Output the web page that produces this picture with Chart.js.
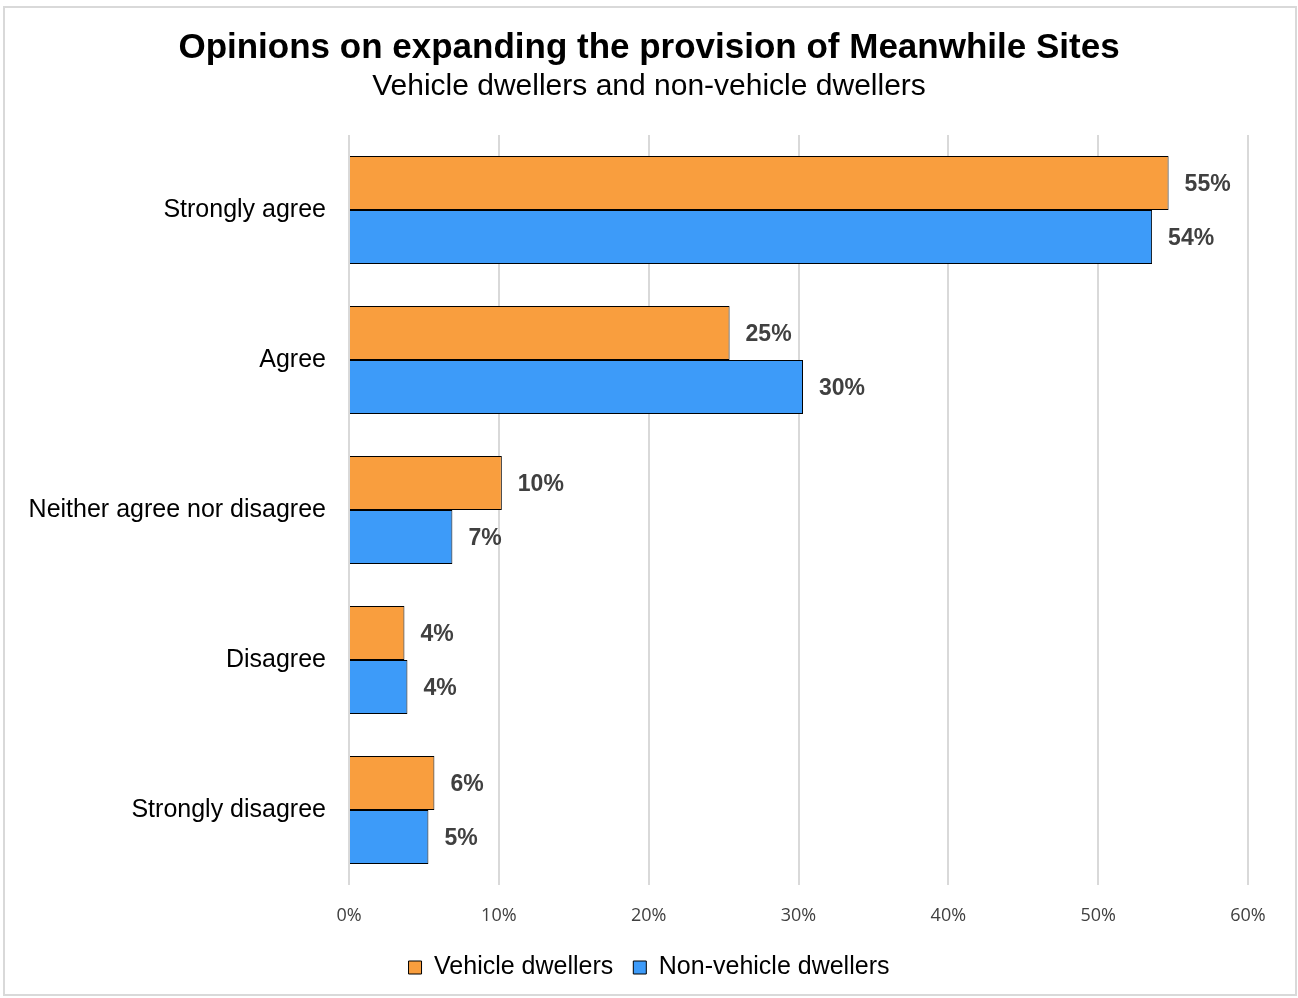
<!DOCTYPE html>
<html>
<head>
<meta charset="utf-8">
<script src="https://cdn.jsdelivr.net/npm/chart.js@4"></script>
<style>
  body { margin: 0; background: #fff; }
</style>
</head>
<body>
<canvas id="myChart" width="1298" height="998"></canvas>
<script>
// survey answers, shares in percent
const answers = ["Strongly agree", "Agree", "Neither agree nor disagree", "Disagree", "Strongly disagree"]
const vehicle = [54.7, 25.4, 10.2, 3.7, 5.7]
const nonVehicle = [53.6, 30.3, 6.9, 3.9, 5.3]
const xTicks = [0, 10, 20, 30, 40, 50, 60]

const font = "'Liberation Sans', Arial, sans-serif"

// light grey frame round the whole chart
const frame = {
    id: 'frame',
    beforeDraw(chart) {
        let ctx = chart.ctx
        ctx.save()
        ctx.strokeStyle = "#d9d9d9"
        ctx.lineWidth = 2
        ctx.strokeRect(4, 7, 1292, 988)
        ctx.restore()
    }
}

// prints the rounded value just past the end of each bar
const valueLabels = {
    id: 'valueLabels',
    afterDatasetsDraw(chart) {
        let ctx = chart.ctx
        ctx.save()
        ctx.font = "bold 23px " + font
        ctx.fillStyle = "#404040"
        ctx.textBaseline = "middle"
        ctx.textAlign = "left"
        chart.data.datasets.forEach((ds, i) => {
            chart.getDatasetMeta(i).data.forEach((bar, j) => {
                ctx.fillText(Math.round(ds.data[j]) + "%", bar.x + 16, bar.y + 2)
            })
        })
        ctx.restore()
    }
}

const ctx = document.getElementById('myChart')

new Chart(ctx, {
    type: 'bar',
    data: {
        labels: answers,
        datasets: [{
            label: 'Vehicle dwellers',
            data: vehicle,
            backgroundColor: '#f99e3e',
            borderColor: '#000',
            borderWidth: 1,
            categoryPercentage: 0.72,
            barPercentage: 1
        }, {
            label: 'Non-vehicle dwellers',
            data: nonVehicle,
            backgroundColor: '#3d9bf9',
            borderColor: '#000',
            borderWidth: 1,
            categoryPercentage: 0.72,
            barPercentage: 1
        }]
    },
    options: {
        indexAxis: 'y',
        responsive: false,
        animation: false,
        layout: { padding: { left: 10, right: 10, bottom: 8 } },
        scales: {
            x: {
                min: 0,
                max: 60,
                afterBuildTicks: (s) => { s.ticks = xTicks.map(v => ({ value: v })) },
                afterFit: (s) => { s.height = 50 },
                grid: { color: '#d9d9d9', lineWidth: 2, drawTicks: false },
                border: { display: false },
                ticks: {
                    padding: 20,
                    color: '#404040',
                    font: { family: "'Open Sans', sans-serif", size: 18 },
                    callback: (v) => v + '%'
                }
            },
            y: {
                grid: { display: false },
                border: { display: false },
                afterFit: (s) => { s.width = 339 },
                ticks: {
                    padding: 15,
                    color: '#000',
                    font: { family: font, size: 25 }
                }
            },
            // empty strip on the right so the plot ends at 60% with room for labels
            yRight: {
                type: 'category',
                position: 'right',
                grid: { display: false },
                border: { display: false },
                ticks: { display: false },
                afterFit: (s) => { s.width = 40 }
            }
        },
        plugins: {
            title: {
                display: true,
                text: 'Opinions on expanding the provision of Meanwhile Sites',
                color: '#000',
                font: { family: font, size: 35, weight: 'bold' },
                padding: { top: 27, bottom: 0 }
            },
            subtitle: {
                display: true,
                text: 'Vehicle dwellers and non-vehicle dwellers',
                color: '#000',
                font: { family: font, size: 30 },
                padding: { top: 0, bottom: 30 }
            },
            legend: {
                position: 'bottom',
                labels: {
                    boxWidth: 13,
                    boxHeight: 13,
                    color: '#595959',
                    padding: 20,
                    font: { family: font, size: 25 },
                    generateLabels: (chart) => chart.data.datasets.map((ds, i) => ({
                        text: ds.label,
                        fillStyle: ds.backgroundColor,
                        strokeStyle: '#000',
                        lineWidth: 1,
                        datasetIndex: i
                    }))
                }
            },
            tooltip: { enabled: false }
        }
    },
    plugins: [frame, valueLabels]
})
</script>
</body>
</html>
